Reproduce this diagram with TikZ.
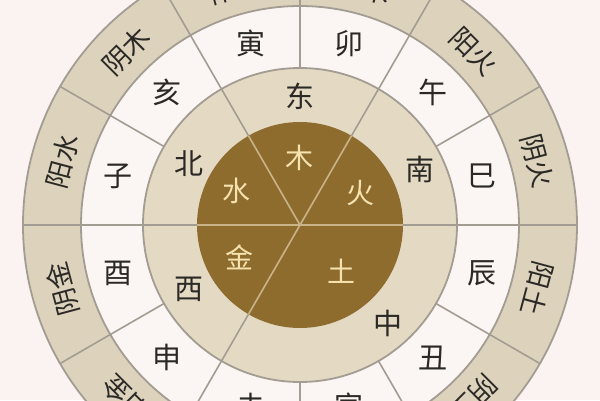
\documentclass[tikz,border=0pt]{standalone}
\usepackage{fontspec}
\newfontfamily\cjk{Noto Sans CJK SC}
\definecolor{paper}{HTML}{FBF3F2}
\definecolor{rimfill}{HTML}{DDD3BD}
\definecolor{branchfill}{HTML}{FBF5F3}
\definecolor{dirfill}{HTML}{E4DAC4}
\definecolor{diskfill}{HTML}{8E6C2E}
\definecolor{diskline}{HTML}{C9B48A}
\definecolor{spokeline}{HTML}{A39C92}
\definecolor{cream}{HTML}{F5E2AE}
\definecolor{ink}{HTML}{2B2926}

\tikzstyle{ringline}=[draw=spokeline,line width=1.8pt]
\tikzstyle{spoke}=[draw=spokeline,line width=1.6pt]
\tikzstyle{label}=[inner sep=0pt,text=ink,font=\cjk\fontsize{29}{29}\selectfont]
\tikzstyle{rimlabel}=[inner sep=0pt,text=ink,font=\cjk\fontsize{27}{27}\selectfont]
\tikzstyle{phase}=[inner sep=0pt,text=cream,font=\cjk\fontsize{28}{28}\selectfont]

\begin{document}
\begin{tikzpicture}[x=1pt,y=1pt]
          \def\rdisk{103}
          \def\rdir{157}
          \def\rbranch{219}
          \def\rrim{277}
          \useasboundingbox (-300,-175) rectangle (300,225);
          \clip (-300,-175) rectangle (300,225);
          \fill[paper] (-300,-175) rectangle (300,225);
          \coordinate (o) at (0,0);

          % rings, outside in
          \fill[rimfill] (o) circle (\rrim);
          \fill[branchfill] (o) circle (\rbranch);
          \fill[dirfill] (o) circle (\rdir);
          \fill[diskfill] (o) circle (\rdisk);

          % twelve spokes through the two outer rings
          \foreach \a in {0,30,...,330}{
            \draw[spoke] (\a:\rdir) -- (\a:\rrim);
          }
          % five spokes from the middle
          \foreach \a in {0,60,120,180,240}{
            \draw[draw=diskline,line width=1.6pt] (o) -- (\a:\rdisk);
            \draw[spoke] (\a:\rdisk) -- (\a:\rdir);
          }
          \draw[ringline] (o) circle (\rrim);
          \draw[ringline] (o) circle (\rbranch);
          \draw[ringline] (o) circle (\rdir);

          % five phases
          \foreach \a/\r/\t [count=\i] in {90/67/木,152/72/水,28/68/火,208/69/金,-48/62/土}{
            \node (p\i) at (\a:\r) [phase] {\t};
          }
          % directions
          \foreach \a/\r/\t [count=\i] in {90/129/东,151/127/北,25/132/南,210/128/西,-48/132/中}{
            \node (d\i) at (\a:\r) [label] {\t};
          }
          % branches
          \foreach \t [count=\i] in {巳,午,卯,寅,亥,子,酉,申,未,寅,丑,辰}{
            \node (b\i) at (\i*30-15:188) [label] {\t};
          }
          % outer ring
          \foreach \a/\t [count=\i] in {15/阴火,45/阳火,75/阴木,105/阳木,135/阴木,165/阳水,195/阴金,225/阳金,315/阴土,345/阳土}{
            \node (r\i) at (\a:246) [rimlabel,rotate=\a-90] {\t};
          }
        \end{tikzpicture}
\end{document}
